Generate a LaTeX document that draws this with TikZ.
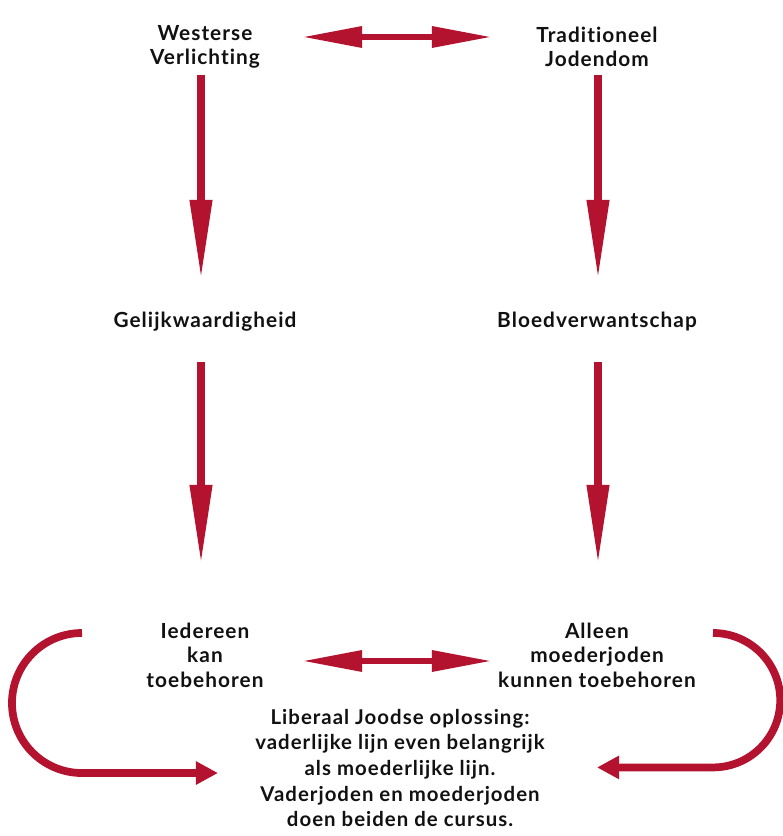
\documentclass[tikz,border=0pt]{standalone}
\usepackage{fontspec}
\setmainfont[LetterSpace=5,Ligatures={NoCommon}]{Lato}
\usetikzlibrary{arrows.meta,calc}
\definecolor{crimson}{HTML}{B3132E}
\definecolor{ink}{HTML}{111111}

\begin{document}
\begin{tikzpicture}[
  x=0.025cm, y=0.025cm,
  term/.style={
    font=\bfseries\fontsize{14.8}{17.5}\selectfont,
    text=ink,
    align=center,
    inner sep=2pt
  },
  flow/.style={
    -{Triangle[length=2cm,width=0.52cm]},
    line width=5.5pt, draw=crimson
  },
  twoway/.style={
    {Triangle[length=1.5cm,width=0.5cm]}-{Triangle[length=1.5cm,width=0.5cm]},
    line width=4.5pt, draw=crimson
  },
  curl/.style={
    -{Triangle[length=0.55cm,width=0.55cm]},
    line width=5.5pt, draw=crimson
  }
]

\path[use as bounding box] (0,0) rectangle (783,836);

% terms
\node[term] (west) at (205,789) {Westerse\\Verlichting};
\node[term] (trad) at (597,789) {Traditioneel\\Jodendom};
\node[term] (gelijk) at (205,514) {Gelijkwaardigheid};
\node[term] (bloed) at (597,514) {Bloedverwantschap};
\node[term] (iedereen) at (205,181) {Iedereen\\kan\\toebehoren};
\node[term] (alleen) at (597,181) {Alleen\\moederjoden\\kunnen toebehoren};
\node[term, font=\bfseries\fontsize{14.5}{18.2}\selectfont] (liberaal) at (400,68)
  {Liberaal Joodse oplossing:\\vaderlijke lijn even belangrijk\\als moederlijke lijn.\\Vaderjoden en moederjoden\\doen beiden de cursus.};

% connectors
\draw[twoway] ($(west)+(97,10)$) -- ($(trad)+(-105,10)$);
\draw[flow] ($(west)+(-4,-28)$) -- ($(gelijk)+(-4,42)$);
\draw[flow] ($(trad)+(1,-28)$) -- ($(bloed)+(1,42)$);
\draw[flow] ($(gelijk)+(-4,-40)$) -- ($(iedereen)+(-4,90)$);
\draw[flow] ($(bloed)+(1,-40)$) -- ($(alleen)+(1,90)$);
\draw[twoway] ($(iedereen)+(97,-6)$) -- ($(alleen)+(-105,-6)$);
\draw[curl] ($(iedereen)+(-123,22)$) arc[start angle=90, end angle=270, radius=1.75cm] -- ++(136,0);
\draw[curl] ($(alleen)+(116,22)$) arc[start angle=90, end angle=-90, radius=1.68cm] -- ++(-116,0);

\end{tikzpicture}
\end{document}
